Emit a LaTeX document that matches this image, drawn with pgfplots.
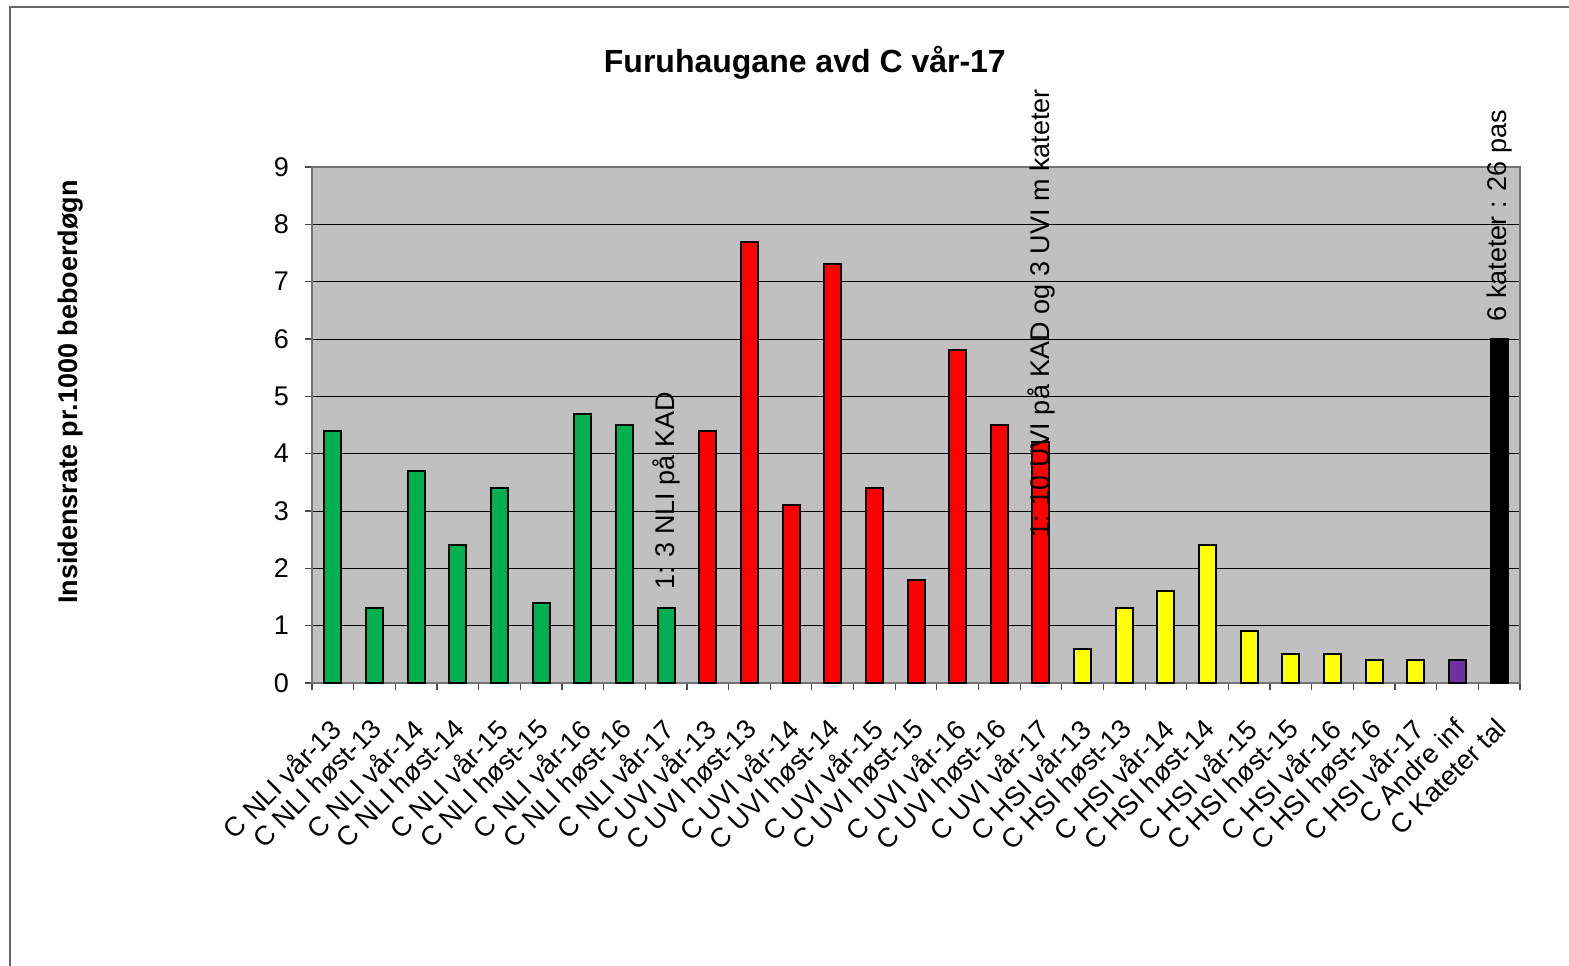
\documentclass[border=0pt]{standalone}
\usepackage{fontspec}
\setmainfont{Liberation Sans}
\usepackage{pgfplots}
\pgfplotsset{compat=1.18}
\definecolor{bggray}{RGB}{192,192,192}
\definecolor{cgreen}{RGB}{0,176,80}
\definecolor{cred}{RGB}{255,0,0}
\definecolor{cyellow}{RGB}{255,255,0}
\definecolor{cpurple}{RGB}{112,48,160}
\newcommand{\fs}{\fontsize{13.5}{16}\selectfont}
\begin{document}
\begin{tikzpicture}
\useasboundingbox (0,0) rectangle (784.5pt,482.5pt);
\draw[black!60, line width=0.6pt] (5pt,-10pt) -- (5pt,479pt) -- (800pt,479pt);
\begin{axis}[
  at={(156pt,141pt)}, anchor=south west,
  scale only axis, width=604pt, height=258pt,
  xmin=-0.5, xmax=28.5, ymin=0, ymax=9,
  clip=false,
  ytick={0,...,9},
  yticklabel shift=4.5pt,
  xtick={-0.5,0.5,...,28.5},
  xticklabels={},
  extra x ticks={0,...,28},
  extra x tick labels={C NLI vår-13, C NLI høst-13, C NLI vår-14, C NLI høst-14, C NLI vår-15, C NLI høst-15, C NLI vår-16, C NLI høst-16, C NLI vår-17, C UVI vår-13, C UVI høst-13, C UVI vår-14, C UVI høst-14, C UVI vår-15, C UVI høst-15, C UVI vår-16, C UVI høst-16, C UVI vår-17, C HSI vår-13, C HSI høst-13, C HSI vår-14, C HSI høst-14, C HSI vår-15, C HSI høst-15, C HSI vår-16, C HSI høst-16, C HSI vår-17, C Andre inf, C Kateter tal},
  extra x tick style={major tick length=0pt, tick label style={yshift=-16.5pt, xshift=-2.5pt, rotate=45, anchor=north east, inner sep=0pt}},
  tick pos=left, tick align=outside, major tick length=3.5pt,
  tick style={black!70, line width=0.6pt},
  tick label style={font=\fs},
  /pgf/number format/assume math mode=true,
  axis background/.style={fill=bggray},
  axis line style={black!55, line width=0.6pt},
  ymajorgrids, major grid style={black, line width=0.5pt},
  title={Furuhaugane avd C vår-17},
  title style={at={(axis description cs:0.408,1.178)}, anchor=center, font=\bfseries\fontsize{16}{19}\selectfont},
  ylabel={Insidensrate pr.1000 beboerdøgn},
  ylabel style={at={(axis description cs:-0.200,0.564)}, anchor=center, font=\bfseries\fs},
  ybar, bar width=8.5pt,
  every axis plot/.append style={bar shift=0pt, draw=black, line width=1pt},
]
\addplot[fill=cgreen] coordinates {(0,4.4) (1,1.3) (2,3.7) (3,2.4) (4,3.4) (5,1.4) (6,4.7) (7,4.5) (8,1.3)};
\addplot[fill=cred] coordinates {(9,4.4) (10,7.7) (11,3.1) (12,7.3) (13,3.4) (14,1.8) (15,5.8) (16,4.5) (17,4.2)};
\addplot[fill=cyellow] coordinates {(18,0.6) (19,1.3) (20,1.6) (21,2.4) (22,0.9) (23,0.5) (24,0.5) (25,0.4) (26,0.4)};
\addplot[fill=cpurple] coordinates {(27,0.4)};
\addplot[fill=black] coordinates {(28,6.0)};
\node[rotate=90, anchor=west, inner sep=0pt, font=\fs] at (axis cs:8,1.62) {1: 3 NLI på KAD};
\node[rotate=90, anchor=west, inner sep=0pt, font=\fs] at (axis cs:17,2.53) {1: 10 UVI på KAD og 3 UVI m kateter};
\node[rotate=90, anchor=west, inner sep=0pt, font=\fs] at (axis cs:28,6.3) {6 kateter : 26 pas};
\end{axis}
\end{tikzpicture}
\end{document}
